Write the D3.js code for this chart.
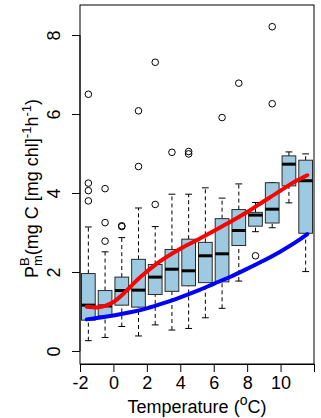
<!DOCTYPE html>
<html>
<head>
<meta charset="utf-8">
<script src="https://cdn.jsdelivr.net/npm/d3@7"></script>
<style>
  body { margin: 0; background: #fff; }
  text { font-family: "Liberation Sans", Arial, Helvetica, sans-serif; fill: #000; }
</style>
</head>
<body>
<div id="chart"><svg width="321" height="418"></svg></div>
<script>
// temperature bins (bin centres, degC)
const binCentres = [-1.5, -0.5, 0.5, 1.5, 2.5, 3.5, 4.5, 5.5, 6.5, 7.5, 8.5, 9.5, 10.5, 11.5];
const whiskerLow = [0.26, 0.34, 0.62, 0.38, 0.66, 0.53, 0.57, 0.84, 1.08, 1.77, 3.02, 3.12, 3.75, 2.01];
const q1 =         [0.78, 0.89, 1.16, 1.11, 1.43, 1.51, 1.65, 1.73, 1.75, 2.67, 3.16, 3.24, 4.18, 2.98];
const medians =    [1.16, 1.14, 1.53, 1.54, 1.87, 2.07, 2.03, 2.41, 2.46, 3.05, 3.44, 3.59, 4.73, 4.31];
const q3 =         [1.96, 1.53, 1.87, 2.32, 2.19, 2.57, 2.83, 2.75, 3.35, 3.58, 3.51, 4.26, 4.94, 4.83];
const whiskerHigh = [3.14, 2.51, 2.87, 3.62, 3.15, 3.97, 3.97, 4.13, 3.87, 4.23, 3.76, 4.26, 5.04, 4.99];
const outliers = [
  [6.5, 4.25, 4.06, 3.8],
  [4.11, 3.25, 2.78],
  [3.15, 3.17],
  [6.08, 4.67],
  [7.31, 3.71],
  [5.03],
  [5.05, 4.99],
  [],
  [5.91],
  [6.78],
  [2.41],
  [8.21, 6.26],
  [],
  []
];

// fitted curves (temperature, P)
const redT = [-1.6, -1, -0.5, 0, 0.5, 1, 1.5, 2, 2.5, 3, 4, 5, 6, 7, 8, 9, 10, 11, 11.6];
const redP = [1.12, 1.1, 1.14, 1.24, 1.41, 1.62, 1.83, 2.01, 2.18, 2.33, 2.59, 2.81, 3.04, 3.27, 3.52, 3.79, 4.06, 4.32, 4.45];
const blueT = [-1.6, 0, 1, 2, 3, 4, 5, 6, 7, 8, 9, 10, 11, 11.6];
const blueP = [0.8, 0.9, 0.98, 1.08, 1.21, 1.36, 1.52, 1.7, 1.88, 2.08, 2.29, 2.52, 2.78, 2.96];

const xTicks = [-2, 0, 2, 4, 6, 8, 10, 12];
const xTickLabels = ["-2", "0", "2", "4", "6", "8", "10", ""];
const yTicks = [0, 2, 4, 6, 8];

const svg = d3.select("#chart svg");
const plotL = 80, plotR = 314, plotT = 5, plotB = 364;

const x = d3.scaleLinear().domain([-2, 12]).range([plotL, plotR]);
const y = d3.scaleLinear().domain([-0.33, 8.76]).range([plotB, plotT]);

const boxW = x(0.82) - x(0);
const capW = boxW / 2;

const boxes = svg.append("g");
binCentres.forEach((c, i) => {
  const g = boxes.append("g");
  const cx = x(c);
  // whiskers
  g.append("line")
    .attr("x1", cx).attr("x2", cx)
    .attr("y1", y(whiskerLow[i])).attr("y2", y(q1[i]))
    .attr("stroke", "#000").attr("stroke-dasharray", "4,3");
  g.append("line")
    .attr("x1", cx).attr("x2", cx)
    .attr("y1", y(q3[i])).attr("y2", y(whiskerHigh[i]))
    .attr("stroke", "#000").attr("stroke-dasharray", "4,3");
  [whiskerLow[i], whiskerHigh[i]].forEach(v => {
    g.append("line")
      .attr("x1", cx - capW / 2).attr("x2", cx + capW / 2)
      .attr("y1", y(v)).attr("y2", y(v))
      .attr("stroke", "#000");
  });
  g.append("rect")
    .attr("x", cx - boxW / 2).attr("width", boxW)
    .attr("y", y(q3[i])).attr("height", y(q1[i]) - y(q3[i]))
    .attr("fill", "#9ecae1").attr("stroke", "#2a2a2a");
  g.append("line")
    .attr("x1", cx - boxW / 2).attr("x2", cx + boxW / 2)
    .attr("y1", y(medians[i])).attr("y2", y(medians[i]))
    .attr("stroke", "#000").attr("stroke-width", 3);
  g.selectAll("circle")
    .data(outliers[i])
    .join("circle")
    .attr("cx", cx).attr("cy", d => y(d)).attr("r", 3.3)
    .attr("fill", "none").attr("stroke", "#000");
});

const line = d3.line()
  .x(d => x(d[0]))
  .y(d => y(d[1]))
  .curve(d3.curveMonotoneX);

svg.append("path")
  .attr("d", line(blueT.map((t, i) => [t, blueP[i]])))
  .attr("fill", "none").attr("stroke", "#0000ff").attr("stroke-width", 4)
  .attr("stroke-linecap", "round");
svg.append("path")
  .attr("d", line(redT.map((t, i) => [t, redP[i]])))
  .attr("fill", "none").attr("stroke", "#ff0000").attr("stroke-width", 4)
  .attr("stroke-linecap", "round");

// frame
svg.append("rect")
  .attr("x", plotL).attr("y", plotT)
  .attr("width", plotR - plotL).attr("height", plotB - plotT)
  .attr("fill", "none").attr("stroke", "#000");

// axes
const xAxis = d3.axisBottom(x).tickValues(xTicks)
  .tickFormat((d, i) => xTickLabels[i]).tickSize(8).tickPadding(4);
svg.append("g")
  .attr("transform", "translate(0," + plotB + ")")
  .call(xAxis)
  .call(g => g.select(".domain").attr("stroke", "#000"))
  .call(g => g.selectAll(".tick text").attr("font-size", 18).attr("fill", "#000")
    .attr("font-family", "Liberation Sans, Arial, sans-serif"));

const yAxis = d3.axisLeft(y).tickValues(yTicks).tickSize(8).tickFormat(d3.format("d"));
svg.append("g")
  .attr("transform", "translate(" + plotL + ",0)")
  .call(yAxis)
  .call(g => g.select(".domain").attr("d", "M0," + y(0) + "V" + y(8)))
  .call(g => g.selectAll(".tick text").remove())
  .call(g => g.selectAll(".tick").append("text")
    .attr("transform", "translate(-20,0) rotate(-90)")
    .attr("text-anchor", "middle")
    .attr("font-size", 18)
    .attr("font-family", "Liberation Sans, Arial, sans-serif")
    .attr("fill", "#000")
    .text(d => d));

// x title
const xt = svg.append("text")
  .attr("x", (plotL + plotR) / 2).attr("y", 413)
  .attr("text-anchor", "middle").attr("font-size", 18);
xt.append("tspan").text("Temperature (");
xt.append("tspan").attr("font-size", 14).attr("dy", -8).text("o");
xt.append("tspan").attr("dy", 8).text("C)");

// y title
const yt = svg.append("text")
  .attr("transform", "translate(38," + ((plotT + plotB) / 2 + 4) + ") rotate(-90)")
  .attr("text-anchor", "middle").attr("font-size", 18);
yt.append("tspan").text("P");
yt.append("tspan").attr("font-size", 13).attr("dy", -9).text("B");
yt.append("tspan").attr("font-size", 13).attr("dx", -8.7).attr("dy", 13).text("m");
yt.append("tspan").attr("dy", -4).text("(mg C [mg chl]");
yt.append("tspan").attr("font-size", 13).attr("dy", -7).text("-1");
yt.append("tspan").attr("dy", 7).text("h");
yt.append("tspan").attr("font-size", 13).attr("dy", -7).text("-1");
yt.append("tspan").attr("dy", 7).text(")");
</script>
</body>
</html>
